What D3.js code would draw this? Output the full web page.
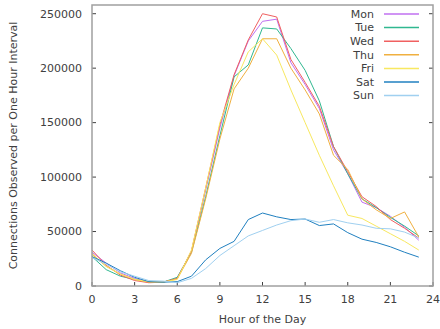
<!DOCTYPE html>
<html>
<head>
<meta charset="utf-8">
<script src="https://cdn.jsdelivr.net/npm/d3@7"></script>
<style>
  body { margin: 0; background: #fff; }
  svg { display: block; font-family: "DejaVu Sans", sans-serif; }
</style>
</head>
<body>
<svg id="chart" width="440" height="329"></svg>
<script>
const hours = d3.range(0, 24);
const xTicks = [0, 3, 6, 9, 12, 15, 18, 21, 24];
const yTicks = [0, 50000, 100000, 150000, 200000, 250000];
const dayNames = ['Mon', 'Tue', 'Wed', 'Thu', 'Fri', 'Sat', 'Sun'];
const dayColors = ['#c070f0', '#30b890', '#f06060', '#f0b040', '#f8e860', '#2080c0', '#a0d0f0'];

const mon = [31000, 21000, 12000, 7000, 3500, 3500, 7000, 32000, 88000, 145000, 193000, 225000,
    243000, 245000, 205000, 185000, 163000, 125000, 103000, 77000, 72000, 64000, 54000, 42000];
const tue = [27000, 15000, 9000, 6000, 3500, 3500, 8000, 31000, 82000, 138000, 192000, 203000,
    237000, 236000, 218000, 198000, 170000, 128000, 103000, 80000, 72000, 63000, 55000, 46000];
const wed = [33000, 19000, 10000, 5000, 3000, 3500, 7000, 32000, 90000, 148000, 194000, 226000,
    250000, 247000, 208000, 187000, 165000, 128000, 105000, 82000, 73000, 61000, 53000, 44000];
const thu = [29000, 18000, 11000, 6000, 3500, 3500, 6500, 30000, 80000, 135000, 181000, 200000,
    227000, 227000, 200000, 180000, 158000, 120000, 107000, 80000, 70000, 62000, 68000, 45000];
const fri = [30000, 18000, 11000, 6000, 4000, 3500, 6000, 33000, 90000, 150000, 185000, 215000,
    227000, 212000, 180000, 150000, 120000, 92000, 65000, 62000, 55000, 48000, 41000, 33000];
const sat = [27000, 21000, 14000, 8000, 4000, 3500, 4000, 9000, 24000, 34500, 41000, 61000,
    67000, 63500, 61000, 61500, 55500, 57000, 49000, 43000, 40000, 36000, 31000, 26500];
const sun = [26000, 20000, 13000, 9000, 5000, 4500, 3000, 7000, 16000, 28000, 37000, 46000,
    51000, 56000, 60000, 61500, 58500, 61000, 58000, 56000, 53000, 52500, 49500, 44000];

const series = [mon, tue, wed, thu, fri, sat, sun];

const margin = { top: 5, right: 7, bottom: 43, left: 92 };
const width = 440 - margin.left - margin.right;
const height = 329 - margin.top - margin.bottom;

const svg = d3.select('#chart');
const g = svg.append('g').attr('transform', `translate(${margin.left},${margin.top})`);

const x = d3.scaleLinear().domain([0, 24]).range([0, width]);
const y = d3.scaleLinear().domain([0, 258000]).range([height, 0]);

const textColor = '#404040';
const borderColor = '#a0a0a0';

// ticks (inward) on left, right and bottom
const tickLen = 4;
g.append('g').selectAll('line.yl').data(yTicks).join('line')
    .attr('x1', 0).attr('x2', tickLen)
    .attr('y1', d => y(d)).attr('y2', d => y(d))
    .attr('stroke', textColor).attr('stroke-width', 1);
g.append('g').selectAll('line.yr').data(yTicks).join('line')
    .attr('x1', width).attr('x2', width - tickLen)
    .attr('y1', d => y(d)).attr('y2', d => y(d))
    .attr('stroke', textColor).attr('stroke-width', 1);
g.append('g').selectAll('line.xb').data(xTicks).join('line')
    .attr('x1', d => x(d)).attr('x2', d => x(d))
    .attr('y1', height).attr('y2', height - tickLen)
    .attr('stroke', textColor).attr('stroke-width', 1);

// tick labels
g.append('g').selectAll('text').data(yTicks).join('text')
    .attr('x', -10).attr('y', d => y(d)).attr('dy', '0.35em')
    .attr('text-anchor', 'end').attr('font-size', 11).attr('fill', textColor)
    .text(d => d);
g.append('g').selectAll('text').data(xTicks).join('text')
    .attr('x', d => x(d)).attr('y', height + 13).attr('dy', '0.35em')
    .attr('text-anchor', 'middle').attr('font-size', 11).attr('fill', textColor)
    .text(d => d);

// axis titles
g.append('text')
    .attr('x', width / 2).attr('y', height + 33).attr('dy', '0.35em')
    .attr('text-anchor', 'middle').attr('font-size', 11).attr('fill', textColor)
    .text('Hour of the Day');
svg.append('text')
    .attr('transform', `translate(13,${margin.top + height / 2}) rotate(-90)`)
    .attr('dy', '0.35em')
    .attr('text-anchor', 'middle').attr('font-size', 11).attr('fill', textColor)
    .text('Connections Observed per One Hour Interval');

// lines
const line = d3.line()
    .x((d, i) => x(hours[i]))
    .y(d => y(d));

series.forEach((s, i) => {
    g.append('path').datum(s)
        .attr('fill', 'none')
        .attr('stroke', dayColors[i])
        .attr('stroke-width', 1)
        .attr('d', line);
});

// border
g.append('rect')
    .attr('x', 0).attr('y', 0).attr('width', width).attr('height', height)
    .attr('fill', 'none').attr('stroke', borderColor).attr('stroke-width', 1.5);

// legend
const legend = g.append('g').attr('transform', 'translate(282,9)');
dayNames.forEach((name, i) => {
    const row = legend.append('g').attr('transform', `translate(0,${i * 13.6})`);
    row.append('text')
        .attr('x', 0).attr('y', 0).attr('dy', '0.35em')
        .attr('text-anchor', 'end').attr('font-size', 11).attr('fill', textColor)
        .text(name);
    row.append('line')
        .attr('x1', 10).attr('x2', 45).attr('y1', 0).attr('y2', 0)
        .attr('stroke', dayColors[i]).attr('stroke-width', 1.5);
});
</script>
</body>
</html>
